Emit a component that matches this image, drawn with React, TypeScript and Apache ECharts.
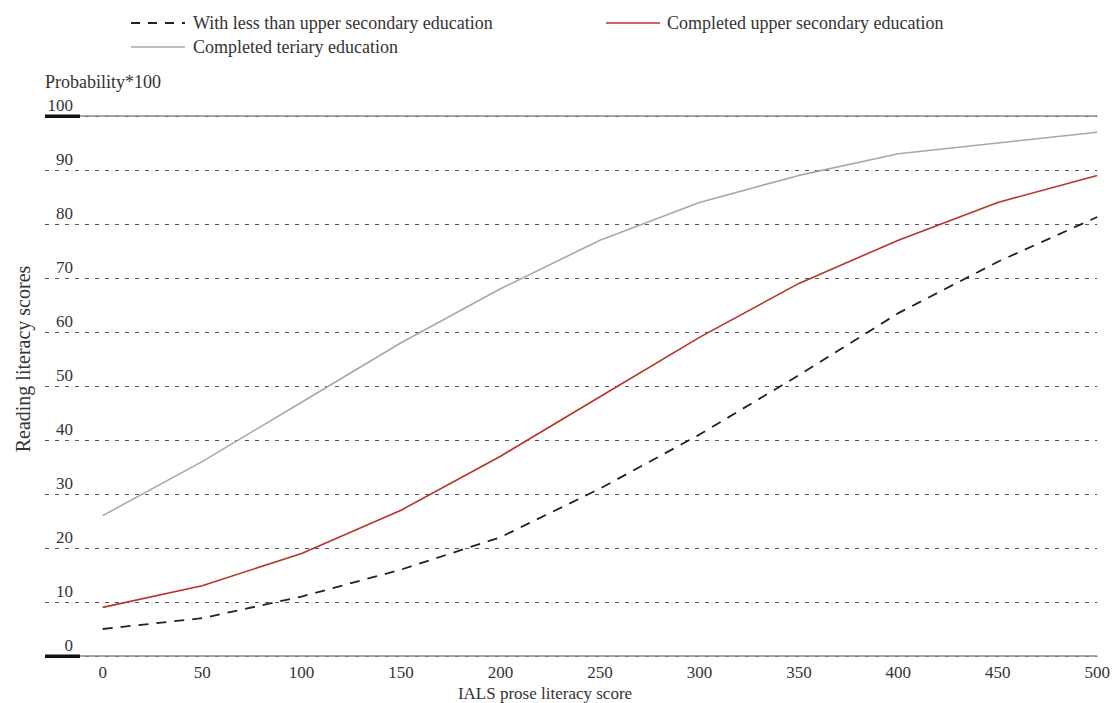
import React, { useEffect, useRef } from "react";
import * as echarts from "echarts";

const xValues = [0, 50, 100, 150, 200, 250, 300, 350, 400, 450, 500];
const lessThanUpperSecondary = [5, 7, 11, 16, 22, 31, 41, 52, 63.5, 73, 81.3];
const upperSecondary = [9, 13, 19, 27, 37, 48, 59, 69, 77, 84, 89];
const tertiary = [26, 36, 47, 58, 68, 77, 84, 89, 93, 95, 97];
const seriesNames = [
  "With less than upper secondary education",
  "Completed upper secondary education",
  "Completed teriary education",
];
const yTitle = "Reading literacy scores";
const xTitle = "IALS prose literacy score";
const unitLabel = "Probability*100";
const FONT = "Liberation Serif";

const pairs = (ys: number[]) => xValues.map((x, i) => [x, ys[i]]);

export default function App() {
  const ref = useRef<HTMLDivElement>(null);
  useEffect(() => {
    if (!ref.current) return;
    const chart = echarts.init(ref.current, null, { renderer: "svg" });
    const textStyle = { fontFamily: FONT, fontSize: 18, fill: "#333" };
    const frameLine = {
      silent: true,
      symbol: "none",
      label: { show: false },
      lineStyle: { color: "#888", width: 1.6, type: "solid" },
      data: [{ yAxis: 0 }, { yAxis: 100 }],
    };
    chart.setOption({
      animation: false,
      textStyle: { fontFamily: FONT, color: "#333" },
      grid: { left: 45, right: 12, top: 116, bottom: 47, containLabel: false },
      xAxis: {
        type: "value",
        min: -29,
        max: 500,
        interval: 1,
        axisLine: { show: false },
        axisTick: { show: false },
        splitLine: { show: false },
        axisLabel: {
          margin: 8,
          fontSize: 17,
          color: "#333",
          fontFamily: FONT,
          showMinLabel: false,
          formatter: (v: number) => (v >= 0 && v % 50 === 0 ? String(v) : ""),
        },
      },
      yAxis: {
        type: "value",
        min: 0,
        max: 100,
        interval: 10,
        axisLine: { show: false },
        axisTick: { show: false },
        splitLine: {
          show: true,
          lineStyle: { color: "#555", type: [4, 6], width: 1 },
        },
        axisLabel: {
          margin: -28,
          fontSize: 17,
          color: "#333",
          fontFamily: FONT,
          align: "right",
          verticalAlign: "bottom",
          padding: [0, 0, 2, 0],
          showMinLabel: true,
          showMaxLabel: true,
        },
      },
      graphic: [
        { type: "rect", z: 100, shape: { x: 45, y: 114.5, width: 35, height: 3.5 }, style: { fill: "#111" } },
        { type: "rect", z: 100, shape: { x: 45, y: 654.5, width: 35, height: 3.5 }, style: { fill: "#111" } },
        { type: "text", x: 45, y: 82, style: { ...textStyle, text: unitLabel, verticalAlign: "middle" } },
        {
          type: "text",
          x: 23,
          y: 359,
          rotation: Math.PI / 2,
          style: { ...textStyle, fontSize: 20, text: yTitle, align: "center", verticalAlign: "middle" },
        },
        {
          type: "text",
          x: 545,
          y: 693,
          style: { ...textStyle, fontSize: 17, text: xTitle, align: "center", verticalAlign: "middle" },
        },
        { type: "line", shape: { x1: 131, y1: 23, x2: 185, y2: 23 }, style: { stroke: "#222", lineWidth: 2, lineDash: [9, 8] } },
        { type: "text", x: 193, y: 23, style: { ...textStyle, text: seriesNames[0], verticalAlign: "middle" } },
        { type: "line", shape: { x1: 606, y1: 23, x2: 660, y2: 23 }, style: { stroke: "#b8342a", lineWidth: 1.5 } },
        { type: "text", x: 667, y: 23, style: { ...textStyle, text: seriesNames[1], verticalAlign: "middle" } },
        { type: "line", shape: { x1: 131, y1: 47, x2: 185, y2: 47 }, style: { stroke: "#a8a8a8", lineWidth: 1.5 } },
        { type: "text", x: 193, y: 47, style: { ...textStyle, text: seriesNames[2], verticalAlign: "middle" } },
      ],
      series: [
        {
          name: seriesNames[0],
          type: "line",
          data: pairs(lessThanUpperSecondary),
          symbol: "none",
          lineStyle: { color: "#222", width: 1.8, type: [10, 8] },
          markLine: frameLine,
        },
        {
          name: seriesNames[1],
          type: "line",
          data: pairs(upperSecondary),
          symbol: "none",
          lineStyle: { color: "#b8342a", width: 1.6 },
        },
        {
          name: seriesNames[2],
          type: "line",
          data: pairs(tertiary),
          symbol: "none",
          lineStyle: { color: "#a8a8a8", width: 1.6 },
        },
      ],
    });
    return () => chart.dispose();
  }, []);
  return <div ref={ref} style={{ width: 1113, height: 703, position: "absolute", left: 0, top: 0 }} />;
}
